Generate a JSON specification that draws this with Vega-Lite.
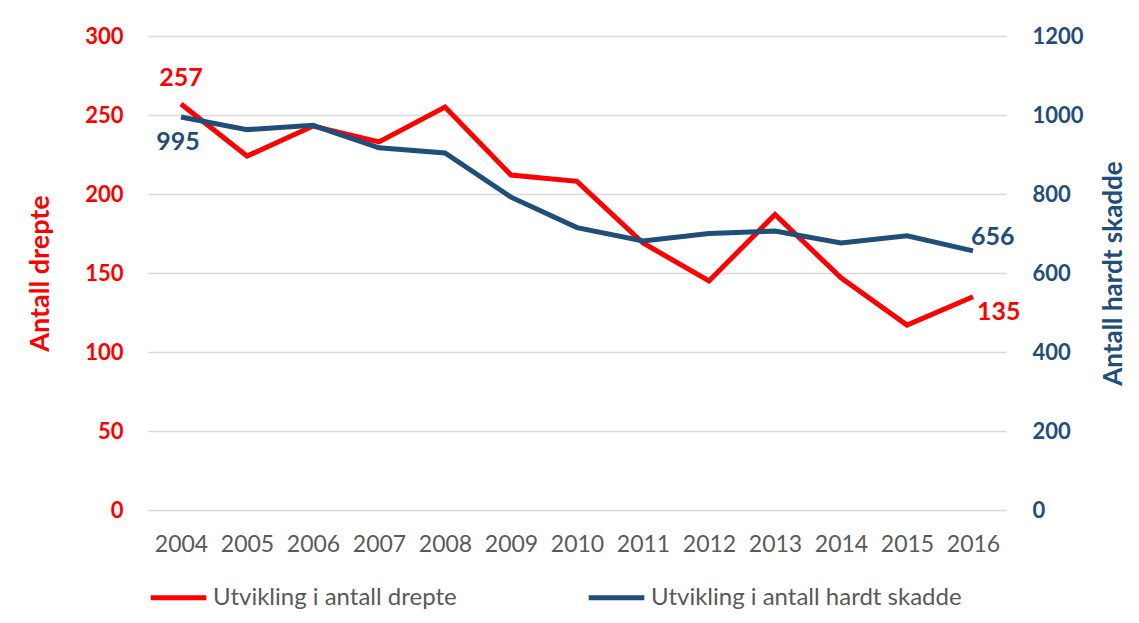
{
  "$schema": "https://vega.github.io/schema/vega-lite/v6.json",
  "autosize": "none",
  "width": 858,
  "height": 474,
  "padding": {"left": 148, "top": 36, "right": 133, "bottom": 113},
  "background": "white",
  "config": {
    "view": {"stroke": null},
    "font": "Lato",
    "axis": {"domain": false, "ticks": false, "labelFont": "Lato", "titleFont": "Lato"}
  },
  "data": {
    "values": [
      {"year": "2004", "drepte": 257, "skadde": 995},
      {"year": "2005", "drepte": 224, "skadde": 963},
      {"year": "2006", "drepte": 243, "skadde": 974},
      {"year": "2007", "drepte": 233, "skadde": 917},
      {"year": "2008", "drepte": 255, "skadde": 904},
      {"year": "2009", "drepte": 212, "skadde": 792},
      {"year": "2010", "drepte": 208, "skadde": 715},
      {"year": "2011", "drepte": 169, "skadde": 681},
      {"year": "2012", "drepte": 145, "skadde": 700},
      {"year": "2013", "drepte": 187, "skadde": 706},
      {"year": "2014", "drepte": 147, "skadde": 676},
      {"year": "2015", "drepte": 117, "skadde": 694},
      {"year": "2016", "drepte": 135, "skadde": 656}
    ]
  },
  "encoding": {
    "x": {
      "field": "year",
      "type": "ordinal",
      "scale": {"type": "point", "padding": 0.5},
      "axis": {"title": null, "labelAngle": 0, "labelColor": "#595959", "labelFontSize": 23, "labelPadding": 23, "grid": false}
    }
  },
  "layer": [
    {
      "encoding": {
        "y": {
          "field": "drepte",
          "type": "quantitative",
          "scale": {"domain": [0, 300], "nice": false},
          "axis": {
            "orient": "left",
            "values": [0, 50, 100, 150, 200, 250, 300],
            "format": "d",
            "title": "Antall drepte",
            "titleColor": "#FF0000",
            "titleFontSize": 27,
            "titleFontWeight": "bold",
            "titlePadding": 30,
            "labelColor": "#FF0000",
            "labelFontSize": 22,
            "labelFontWeight": "bold",
            "labelPadding": 25,
            "grid": true,
            "gridColor": "#D9D9D9",
            "gridWidth": 1.5
          }
        }
      },
      "layer": [
        {
          "mark": {"type": "line", "strokeWidth": 5, "strokeJoin": "miter"},
          "encoding": {
            "color": {
              "datum": "Utvikling i antall drepte",
              "type": "nominal",
              "scale": {"domain": ["Utvikling i antall drepte", "Utvikling i antall hardt skadde"], "range": ["#FF0000", "#1F4E79"]},
              "legend": {
                "title": null,
                "orient": "bottom",
                "direction": "horizontal",
                "offset": 11,
                "symbolType": "stroke",
                "symbolSize": 3100,
                "symbolStrokeWidth": 5,
                "labelFont": "Lato",
                "labelFontSize": 24,
                "labelColor": "#595959",
                "labelOffset": 4,
                "columnPadding": 121,
                "labelLimit": 400
              }
            }
          }
        },
        {
          "transform": [{"filter": "datum.year == '2004'"}],
          "mark": {"type": "text", "fontSize": 25, "fontWeight": "bold", "color": "#FF0000", "dy": -26, "baseline": "middle"},
          "encoding": {"text": {"field": "drepte"}}
        },
        {
          "transform": [{"filter": "datum.year == '2016'"}],
          "mark": {"type": "text", "fontSize": 25, "fontWeight": "bold", "color": "#FF0000", "dx": 4, "dy": 15, "align": "left", "baseline": "middle"},
          "encoding": {"text": {"field": "drepte"}}
        }
      ]
    },
    {
      "encoding": {
        "y": {
          "field": "skadde",
          "type": "quantitative",
          "scale": {"domain": [0, 1200], "nice": false},
          "axis": {
            "orient": "right",
            "values": [0, 200, 400, 600, 800, 1000, 1200],
            "format": "d",
            "title": "Antall hardt skadde",
            "titleAngle": 270,
            "titleBaseline": "top",
            "titleColor": "#1F4E79",
            "titleFontSize": 26,
            "titleFontWeight": "bold",
            "titlePadding": 17,
            "labelColor": "#1F4E79",
            "labelFontSize": 22,
            "labelFontWeight": "bold",
            "labelPadding": 26,
            "grid": false
          }
        }
      },
      "layer": [
        {
          "mark": {"type": "line", "strokeWidth": 5, "strokeJoin": "miter"},
          "encoding": {
            "color": {
              "datum": "Utvikling i antall hardt skadde",
              "type": "nominal"
            }
          }
        },
        {
          "transform": [{"filter": "datum.year == '2004'"}],
          "mark": {"type": "text", "fontSize": 25, "fontWeight": "bold", "color": "#1F4E79", "dx": -3, "dy": 25, "baseline": "middle"},
          "encoding": {"text": {"field": "skadde"}}
        },
        {
          "transform": [{"filter": "datum.year == '2016'"}],
          "mark": {"type": "text", "fontSize": 25, "fontWeight": "bold", "color": "#1F4E79", "dx": -2, "dy": -14, "align": "left", "baseline": "middle"},
          "encoding": {"text": {"field": "skadde"}}
        }
      ]
    }
  ],
  "resolve": {"scale": {"y": "independent", "color": "shared"}}
}
